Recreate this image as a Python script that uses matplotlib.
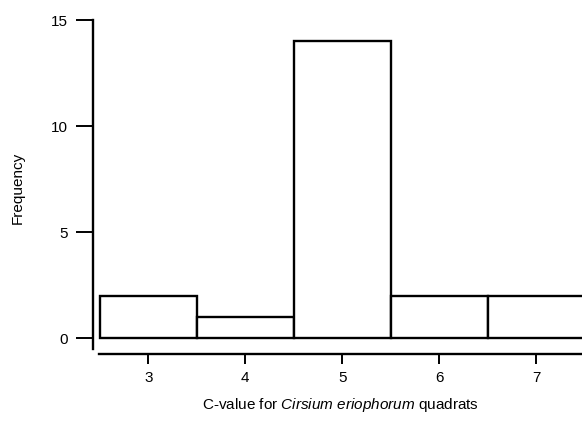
import matplotlib
matplotlib.use("Agg")
import matplotlib.pyplot as plt

c_values = [3, 4, 5, 6, 7]
frequencies = [2, 1, 14, 2, 2]
y_ticks = [0, 5, 10, 15]

plt.rcParams['font.family'] = ['Liberation Sans', 'DejaVu Sans']
plt.rcParams['mathtext.fontset'] = 'custom'
plt.rcParams['mathtext.it'] = 'Liberation Sans:italic'
plt.rcParams['mathtext.rm'] = 'Liberation Sans'

fig = plt.figure(figsize=(5.82, 4.22), dpi=100)
ax_w = 0.853
ax_h = 0.7915
ax = fig.add_axes([0.1598, 0.1611, ax_w, ax_h])

ax.bar(c_values, frequencies, width=1.0, color='white', edgecolor='black', linewidth=1.7)

ax.set_xlim(2.43, 7.55)
ax.set_ylim(-0.75, 15)
ax.set_xticks(c_values)
ax.set_yticks(y_ticks)

for s in ['top', 'right']:
    ax.spines[s].set_visible(False)
ax.spines['left'].set_bounds(-0.5, 15)
ax.spines['bottom'].set_bounds(2.49, 7.55)
ax.spines['left'].set_linewidth(1.7)
ax.spines['bottom'].set_linewidth(1.7)

ax.tick_params(axis='y', length=12, width=1.4, pad=6, labelsize=11)
ax.tick_params(axis='x', length=7, width=1.4, pad=5, labelsize=11)

ax.set_ylabel('Frequency', fontsize=11)
ax.yaxis.set_label_coords(-(93 - 25) / (ax_w * 582), (354 - 188) / (ax_h * 422))
ax.set_xlabel(r'C-value for $\mathit{Cirsium\ eriophorum}$ quadrats', fontsize=11)
ax.xaxis.set_label_coords((340 - 93) / (ax_w * 582), -(396 - 354) / (ax_h * 422))

fig.savefig('out.png', dpi=100)
